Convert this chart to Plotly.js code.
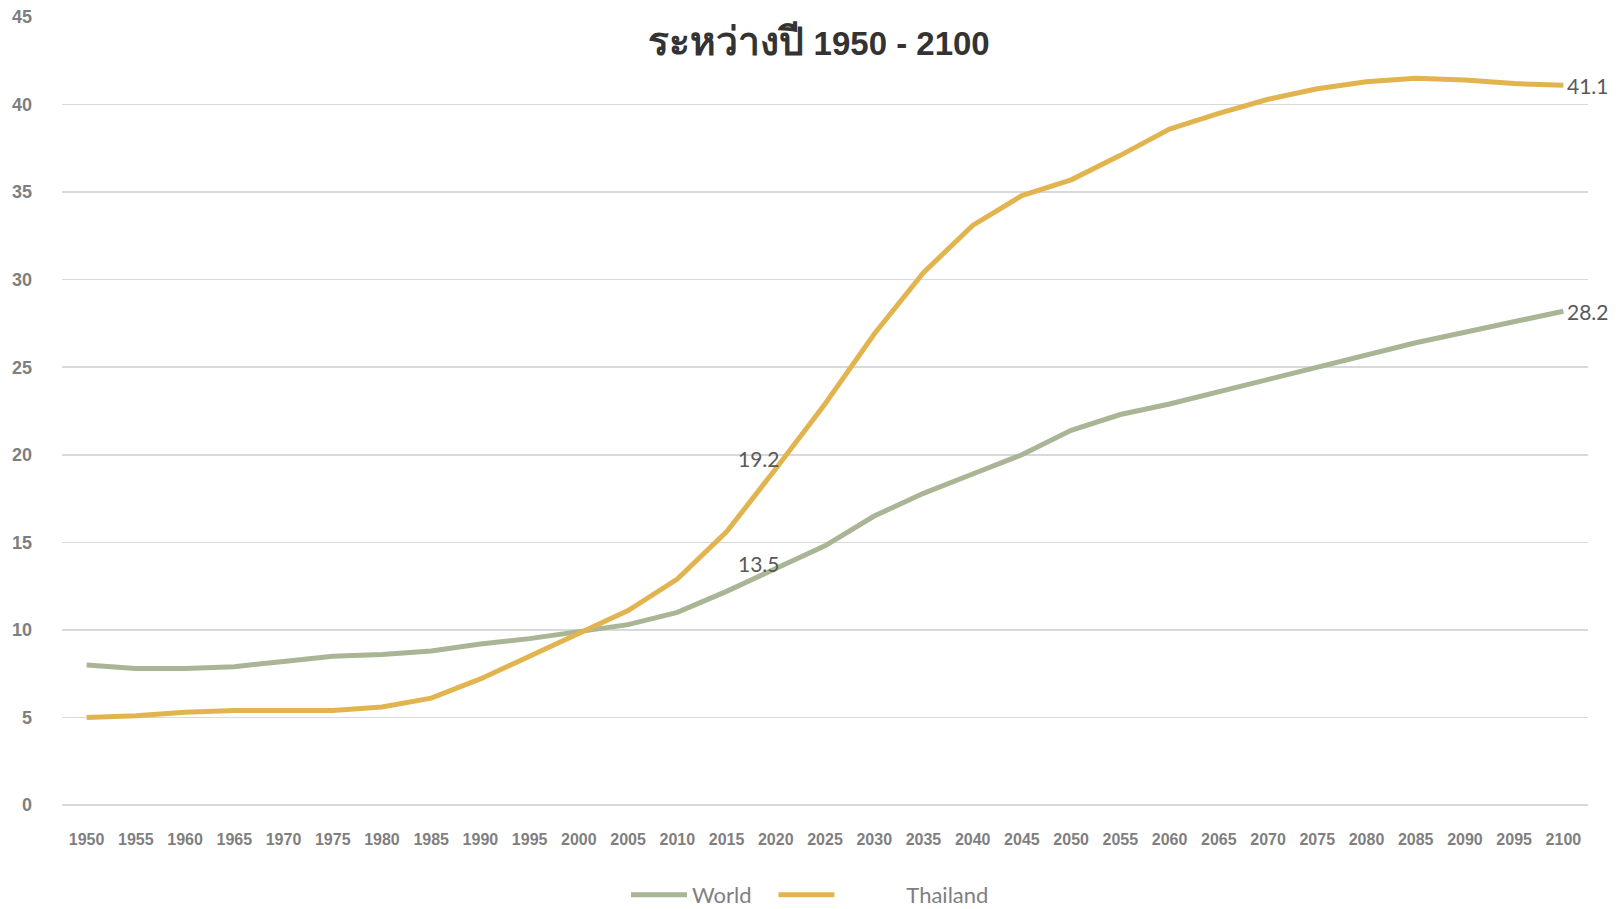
<!DOCTYPE html>
<html>
<head>
<meta charset="utf-8">
<script src="https://cdn.plot.ly/plotly-3.0.1.min.js"></script>
<style>html,body{margin:0;padding:0;background:#fff;}#chart{width:1620px;height:909px;}</style>
</head>
<body>
<div id="chart"></div>
<script>
const years = [1950,1955,1960,1965,1970,1975,1980,1985,1990,1995,2000,2005,2010,2015,2020,2025,2030,2035,2040,2045,2050,2055,2060,2065,2070,2075,2080,2085,2090,2095,2100];
const worldValues = [8.0,7.8,7.8,7.9,8.2,8.5,8.6,8.8,9.2,9.5,9.9,10.3,11.0,12.2,13.5,14.8,16.5,17.8,18.9,20.0,21.4,22.3,22.9,23.6,24.3,25.0,25.7,26.4,27.0,27.6,28.2];
const thailandValues = [5.0,5.1,5.3,5.4,5.4,5.4,5.6,6.1,7.2,8.5,9.8,11.1,12.9,15.6,19.2,22.9,26.9,30.4,33.1,34.8,35.7,37.1,38.6,39.5,40.3,40.9,41.3,41.5,41.4,41.2,41.1];
const seriesNames = ["World", "Thailand"];
const titleThai = "ระหว่างปี";
const titleRange = "1950 - 2100";
const labelYears = [2020, 2100];

const cats = years.map(String);
const tickFontY = {family: "'Liberation Sans', Arial, sans-serif", size: 18, color: "#7f7f7f", weight: 700};
const tickFontX = {family: "'Liberation Sans', Arial, sans-serif", size: 16, color: "#7f7f7f", weight: 700};
const labelFont = {family: "Lato, 'Open Sans', sans-serif", size: 21, color: "#595959"};
const legendFont = {family: "Lato, 'Open Sans', sans-serif", size: 22, color: "#7f7f7f"};

const traces = [
  {x: cats, y: worldValues, name: seriesNames[0] + "&nbsp;".repeat(3), type: "scatter", mode: "lines",
   line: {color: "#A9B594", width: 5}},
  {x: cats, y: thailandValues, name: "&nbsp;".repeat(12) + seriesNames[1], type: "scatter", mode: "lines",
   line: {color: "#E2B44F", width: 5}}
];

const annotations = [];
const iMid = years.indexOf(labelYears[0]);
const iEnd = years.indexOf(labelYears[1]);
const midShifts = [5, 10];
[worldValues, thailandValues].forEach((vals, k) => {
  annotations.push({x: iMid, y: vals[iMid], xref: "x", yref: "y", text: vals[iMid].toFixed(1),
    showarrow: false, xanchor: "right", yanchor: "middle", xshift: 6, yshift: midShifts[k], font: labelFont});
  annotations.push({x: iEnd, y: vals[iEnd], xref: "x", yref: "y", text: vals[iEnd].toFixed(1),
    showarrow: false, xanchor: "left", yanchor: "middle", xshift: 2, yshift: 0, font: labelFont});
});

const layout = {
  width: 1620, height: 909,
  margin: {l: 62, r: 32, t: 16.5, b: 104},
  paper_bgcolor: "#fff", plot_bgcolor: "#fff",
  title: {text: "<b><span style=\"font-size:39px\">" + titleThai + "</span> " + titleRange + "</b>",
    x: 0.5056, xref: "container", xanchor: "center",
    y: 1 - 43/909, yref: "container", yanchor: "middle",
    font: {family: "'Liberation Sans', Arial, sans-serif", size: 33, color: "#333333"}},
  xaxis: {type: "category", range: [-0.5, years.length - 0.5], showgrid: false, zeroline: false, automargin: false,
    showline: false, ticks: "", tickfont: tickFontX, ticklabelstandoff: 23, tickangle: 0, fixedrange: true},
  yaxis: {range: [0, 45], dtick: 5, tick0: 0, showgrid: true, gridcolor: "#D9D9D9", gridwidth: 1.5, automargin: false,
    zeroline: true, zerolinecolor: "#D9D9D9", zerolinewidth: 1.5, showline: false, ticks: "",
    tickfont: tickFontY, ticklabelstandoff: 29, fixedrange: true},
  showlegend: true,
  legend: {orientation: "h", x: 0.5, xref: "container", xanchor: "center", y: 1 - 895/909, yref: "container", yanchor: "middle",
    font: legendFont, bgcolor: "rgba(0,0,0,0)", itemwidth: 56},
  annotations: annotations
};

Plotly.newPlot("chart", traces, layout, {displayModeBar: false, staticPlot: true});
</script>
</body>
</html>
